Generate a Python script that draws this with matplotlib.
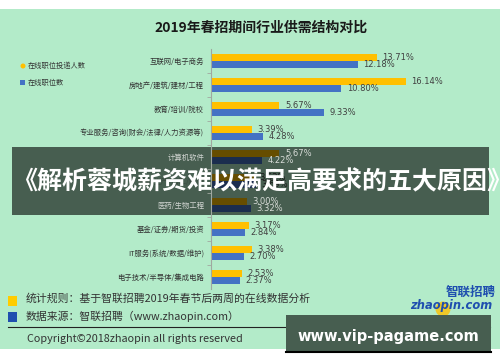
import matplotlib
matplotlib.use("Agg")
import matplotlib.pyplot as plt
from matplotlib.patches import Rectangle, Ellipse
from matplotlib.lines import Line2D

plt.rcParams['font.family'] = ['Noto Sans CJK SC', 'DejaVu Sans']

categories = ["互联网/电子商务", "房地产/建筑/建材/工程", "教育/培训/院校",
              "专业服务/咨询(财会/法律/人力资源等)", "计算机软件",
              "汽车/生产/加工/制造", "医药/生物工程", "基金/证券/期货/投资",
              "IT服务(系统/数据/维护)", "电子技术/半导体/集成电路"]
applicants = [13.71, 16.14, 5.67, 3.39, 5.67, 3.52, 3.00, 3.17, 3.38, 2.53]
positions = [12.18, 10.80, 9.33, 4.28, 4.22, 3.69, 3.32, 2.84, 2.70, 2.37]
series_names = ["在线职位投递人数", "在线职位数"]
title = "2019年春招期间行业供需结构对比"
overlay_title = "《解析蓉城薪资难以满足高要求的五大原因》"
footer1 = "统计规则：基于智联招聘2019年春节后两周的在线数据分析"
footer2 = "数据来源：智联招聘（www.zhaopin.com）"
copyright_text = "Copyright©2018zhaopin all rights reserved"
watermark = "www.vip-pagame.com"

W, H = 500, 362
YELLOW = "#FFC000"
BLUE = "#4472C4"
BG = "#B3EBC9"
DARK = "#333333"

fig = plt.figure(figsize=(W / 100, H / 100), dpi=100)
fig.patch.set_facecolor("white")

def fx(x):
    return x / W

def fy(y):
    return 1 - y / H

# green background panel
fig.patches.append(Rectangle((0, fy(349)), 1, (349 - 9) / H, transform=fig.transFigure,
                             facecolor=BG, edgecolor="none", zorder=-10))

ax_left, ax_right, ax_top, ax_bot = 211, 491, 49, 289
ax = fig.add_axes([fx(ax_left), fy(ax_bot), (ax_right - ax_left) / W, (ax_bot - ax_top) / H])
ax.set_zorder(1)
ax.set_facecolor("none")
xmax = (ax_right - ax_left) / 12.08
ax.set_xlim(0, xmax)
ax.set_ylim(len(categories) - 0.5, -0.5)

idx = list(range(len(categories)))
bh = 0.3
off = 0.155
ax.barh([i - off for i in idx], applicants, height=bh, color=YELLOW, zorder=2)
ax.barh([i + off for i in idx], positions, height=bh, color=BLUE, zorder=2)

covered = {4, 6}
pad = 0.45
for i in idx:
    c = "#d8dcd8" if i in covered else "#404040"
    z = 6 if i in covered else 3
    ax.text(applicants[i] + pad, i - off, f"{applicants[i]:.2f}%", fontsize=6,
            va="center", ha="left", color=c, family="DejaVu Sans", zorder=z)
    ax.text(positions[i] + pad, i + off, f"{positions[i]:.2f}%", fontsize=6,
            va="center", ha="left", color=c, family="DejaVu Sans", zorder=z)

ax.set_yticks(idx)
ax.set_yticklabels(categories, fontsize=5.3)
for i, lab in enumerate(ax.get_yticklabels()):
    lab.set_color("#d0d4d0" if i in covered else ("#3a4a40" if i == 5 else DARK))
ax.set_yticks([i + 0.5 for i in idx[:-1]], minor=True)
ax.tick_params(axis="y", which="major", length=0, pad=5)
ax.tick_params(axis="y", which="minor", length=3, color="#a0a8a0", width=0.6)
ax.set_xticks([])
for s in ["top", "right", "bottom"]:
    ax.spines[s].set_visible(False)
ax.spines["left"].set_color("#a0a8a0")
ax.spines["left"].set_linewidth(0.8)
ax.spines["left"].set_zorder(6)
ax.yaxis.set_zorder(6)

# overlay band
ax.add_patch(Rectangle((fx(12), fy(215)), fx(489) - fx(12), (215 - 147) / H,
                       transform=fig.transFigure, facecolor="black", alpha=0.6,
                       edgecolor="none", zorder=5, clip_on=False))
fig.text(fx(12), fy(182), overlay_title, fontsize=18, fontweight="bold", color="white",
         ha="left", va="center", zorder=10)

# title
fig.text(fx(261), fy(28), title, fontsize=10, fontweight="bold", color="#1a1a1a",
         ha="center", va="center")

# left legend
fig.patches.append(Ellipse((fx(23), fy(66)), 5 / W, 5 / H, transform=fig.transFigure,
                           facecolor=YELLOW, edgecolor="none", zorder=2))
fig.text(fx(28), fy(66), series_names[0], fontsize=5.2, color=DARK, ha="left", va="center")
fig.patches.append(Rectangle((fx(20), fy(85)), 4.5 / W, 4.5 / H, transform=fig.transFigure,
                             facecolor=BLUE, edgecolor="none", zorder=2))
fig.text(fx(28), fy(83), series_names[1], fontsize=5.2, color=DARK, ha="left", va="center")

# footer
fig.patches.append(Rectangle((fx(8), fy(306)), 9 / W, 10 / H, transform=fig.transFigure,
                             facecolor="#FFCC00", edgecolor="none", zorder=2))
fig.text(fx(26), fy(298), footer1, fontsize=7.8, color=DARK, ha="left", va="center")
fig.patches.append(Rectangle((fx(8), fy(322)), 9 / W, 10 / H, transform=fig.transFigure,
                             facecolor="#1F4FAF", edgecolor="none", zorder=2))
fig.text(fx(26), fy(316), footer2, fontsize=7.8, color=DARK, ha="left", va="center")
fig.lines.append(Line2D([fx(8), fx(490)], [fy(327), fy(327)], transform=fig.transFigure,
                        color="#222222", linewidth=0.8, zorder=2))
fig.text(fx(27), fy(339), copyright_text, fontsize=7.8, color=DARK, ha="left", va="center")

# logo
fig.patches.append(Ellipse((fx(443), fy(309)), 15 / W, 15 / H, transform=fig.transFigure,
                           facecolor="#F5C518", edgecolor="none", alpha=0.9, zorder=2))
fig.text(fx(496), fy(292), "智联招聘", fontsize=9, fontweight="bold", style="italic",
         color="#1F4FAF", ha="right", va="center", zorder=3)
fig.text(fx(492), fy(306), "zhaopin.com", fontsize=8.3, fontweight="bold", style="italic",
         color="#1F4FAF", ha="right", va="center", family="DejaVu Sans", zorder=3)

# watermark box
fig.patches.append(Rectangle((fx(286), fy(352)), (491 - 286) / W, (352 - 315) / H,
                             transform=fig.transFigure, facecolor="#475E50",
                             edgecolor="none", zorder=8))
fig.lines.append(Line2D([fx(286), fx(491)], [fy(352), fy(352)], transform=fig.transFigure,
                        color="black", linewidth=1.5, zorder=9))
fig.text(fx(388), fy(336), watermark, fontsize=10.5, fontweight="bold", color="white",
         ha="center", va="center", family="DejaVu Sans", zorder=10)

fig.savefig("out.png", dpi=100, facecolor=fig.get_facecolor())
